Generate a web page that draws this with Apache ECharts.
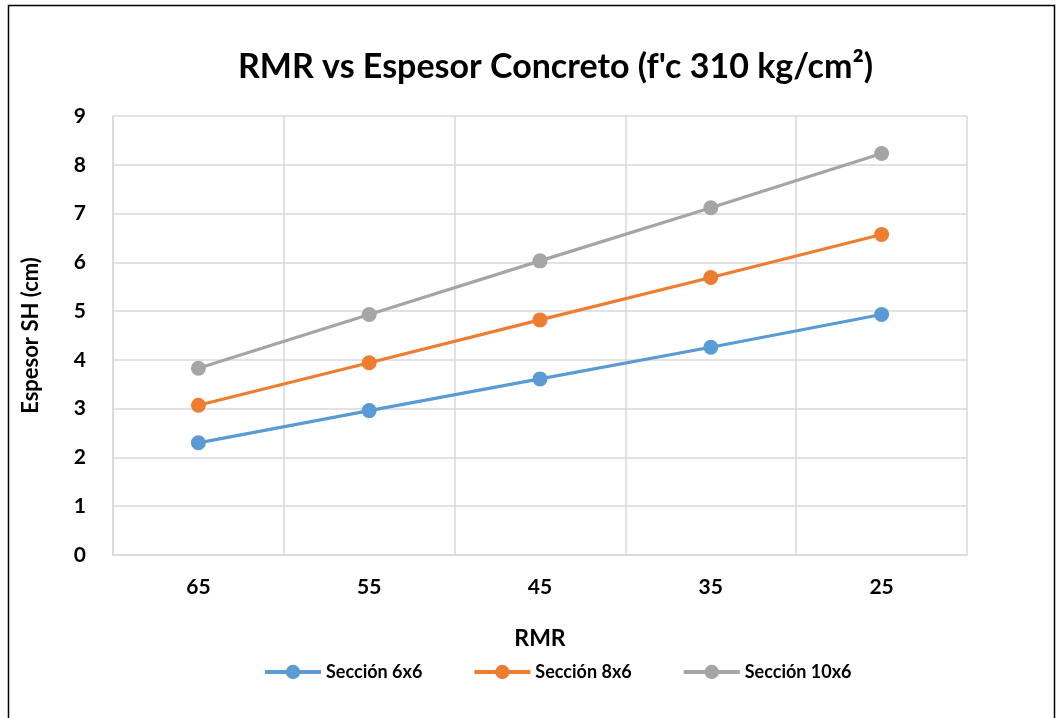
<!DOCTYPE html>
<html>
<head>
<meta charset="utf-8">
<script src="https://cdn.jsdelivr.net/npm/echarts@6/dist/echarts.min.js"></script>
<style>
  html, body { margin: 0; padding: 0; background: #fff; }
  #chart { width: 1061px; height: 718px; }
</style>
</head>
<body>
<div id="chart"></div>
<script>
// RMR classes on the horizontal axis
const categories = ['65', '55', '45', '35', '25'];
// Shotcrete thickness (cm) per tunnel section
const seccion6x6 = [2.30, 2.96, 3.61, 4.26, 4.93];
const seccion8x6 = [3.07, 3.94, 4.82, 5.69, 6.57];
const seccion10x6 = [3.83, 4.93, 6.03, 7.12, 8.23];
const yTicks = [0, 1, 2, 3, 4, 5, 6, 7, 8, 9];

const FONT = 'Lato, "Open Sans", sans-serif';
const chart = echarts.init(document.getElementById('chart'));

function lineSeries(name, data, color) {
  return {
    name: name,
    type: 'line',
    data: data,
    symbol: 'circle',
    symbolSize: 15,
    lineStyle: { width: 3.2, color: color },
    itemStyle: { color: color },
    emphasis: { disabled: true },
    animation: false
  };
}

chart.setOption({
  animation: false,
  graphic: [{
    type: 'rect',
    shape: { x: 8.5, y: 5.5, width: 1046, height: 730 },
    style: { fill: 'none', stroke: '#000', lineWidth: 1.5 },
    silent: true
  }],
  title: {
    text: "RMR vs Espesor Concreto (f'c 310 kg/cm²)",
    left: 233,
    top: 45,
    textStyle: { fontFamily: FONT, fontWeight: 'bold', fontSize: 34, color: '#000' }
  },
  legend: {
    top: 658,
    left: 258,
    itemWidth: 56,
    itemHeight: 18,
    itemGap: 50,
    lineStyle: { width: 4 },
    textStyle: { fontFamily: FONT, fontWeight: 'bold', fontSize: 18, color: '#000' },
    data: [
      { name: 'Sección 6x6' },
      { name: 'Sección 8x6' },
      { name: 'Sección 10x6' }
    ]
  },
  grid: { left: 113, right: 94, top: 116, bottom: 163, containLabel: false },
  xAxis: {
    type: 'category',
    data: categories,
    boundaryGap: true,
    name: 'RMR',
    nameLocation: 'middle',
    nameGap: 72,
    nameTextStyle: { fontFamily: FONT, fontWeight: 'bold', fontSize: 23, color: '#000' },
    axisLine: { show: true, lineStyle: { color: '#d9d9d9', width: 1.5 } },
    axisTick: { show: false },
    axisLabel: { fontFamily: FONT, fontWeight: 'bold', fontSize: 21, color: '#000', margin: 22 },
    splitLine: { show: true, lineStyle: { color: '#d9d9d9', width: 1.5 } }
  },
  yAxis: {
    type: 'value',
    min: yTicks[0],
    max: yTicks[yTicks.length - 1],
    interval: 1,
    name: 'Espesor SH (cm)',
    nameLocation: 'middle',
    nameGap: 71,
    nameRotate: 90,
    nameTextStyle: { fontFamily: FONT, fontWeight: 'bold', fontSize: 22, color: '#000' },
    axisLine: { show: true, lineStyle: { color: '#d9d9d9', width: 1.5 } },
    axisTick: { show: false },
    axisLabel: { fontFamily: FONT, fontWeight: 'bold', fontSize: 21, color: '#000', margin: 27 },
    splitLine: { show: true, lineStyle: { color: '#d9d9d9', width: 1.5 } }
  },
  series: [
    lineSeries('Sección 6x6', seccion6x6, '#5b9bd5'),
    lineSeries('Sección 8x6', seccion8x6, '#ed7d31'),
    lineSeries('Sección 10x6', seccion10x6, '#a5a5a5')
  ]
});
</script>
</body>
</html>
